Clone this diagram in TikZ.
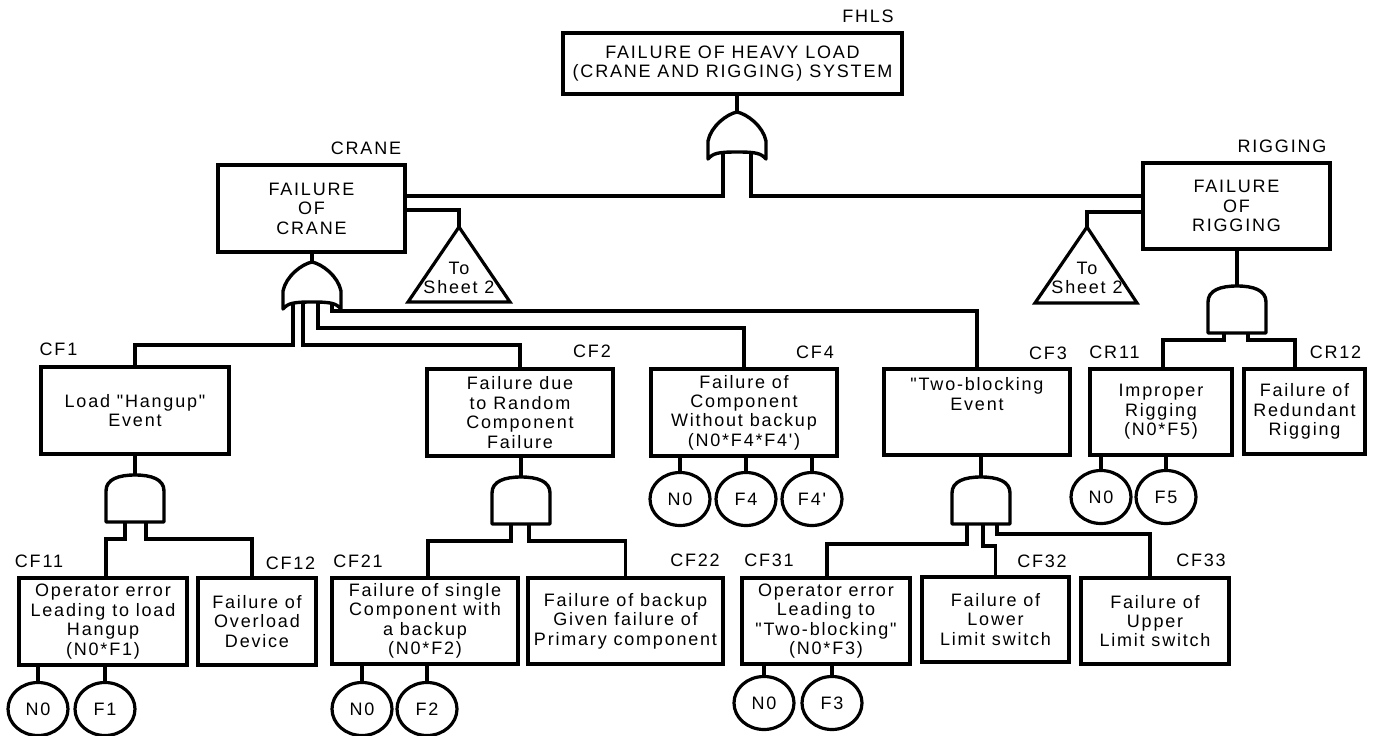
\documentclass[tikz,border=0pt]{standalone}
\usepackage{fontspec}
\setmainfont{Liberation Sans}[LetterSpace=10,Ligatures=TeXOff]
\usetikzlibrary{shapes.geometric}
\newcommand{\dtxt}{\fontsize{18}{19.4}\selectfont}
\begin{document}
\begin{tikzpicture}[x=1pt,y=-1pt,
  lw/.style={line width=3.6pt},
  box/.style={draw,lw,fill=white,align=center,inner sep=0pt,font=\dtxt},
  tag/.style={inner sep=0pt,font=\dtxt},
  ev/.style={ellipse,draw,line width=3.2pt,fill=white,minimum width=60pt,minimum height=53pt,inner sep=0pt,font=\dtxt},
  wire/.style={lw,line join=miter},
  gateline/.style={line width=3.4pt,fill=white,line join=round},
  tri/.style={line width=3.2pt,fill=white,line join=miter},
  orgate/.pic={\path[gateline,draw] (0,0) .. controls (-10,2) and (-26,14) .. (-29,29) -- (-29,47) .. controls (-24,41) and (-18,40) .. (0,40) .. controls (18,40) and (24,41) .. (29,47) -- (29,29) .. controls (26,14) and (10,2) .. (0,0) -- cycle;},
  andgate/.pic={\path[gateline,draw] (-29,47) -- (-29,16) .. controls (-29,4) and (-16,0) .. (0,0) .. controls (16,0) and (29,4) .. (29,16) -- (29,47) -- cycle;}
]
\useasboundingbox (0,0) rectangle (1374,736);

% ---- boxes ----
\node[box,minimum width=339pt,minimum height=61pt] (fhls) at (732.5,63.5) {FAILURE OF HEAVY LOAD\\(CRANE AND RIGGING) SYSTEM};
\node[box,minimum width=187pt,minimum height=87pt] (crane) at (311.5,208.5) {FAILURE\\OF\\CRANE};
\node[box,minimum width=187pt,minimum height=86pt] (rig) at (1236.5,206) {FAILURE\\OF\\RIGGING};
\node[box,minimum width=188pt,minimum height=87pt] (cf1) at (135,410.5) {Load "Hangup"\\Event};
\node[box,minimum width=186pt,minimum height=87pt] (cf2) at (520,412.5) {Failure due\\to Random\\Component\\Failure};
\node[box,minimum width=186pt,minimum height=87pt] (cf4) at (744,412.5) {Failure of\\Component\\Without backup\\(N0*F4*F4')};
\node[box,minimum width=186pt,minimum height=86pt,text depth=36pt] (cf3) at (977,412) {"Two-blocking\\Event};
\node[box,minimum width=142pt,minimum height=86pt] (cr11) at (1161,412) {Improper\\Rigging\\(N0*F5)};
\node[box,minimum width=121pt,minimum height=85pt] (cr12) at (1304.5,411.5) {Failure of\\Redundant\\Rigging};
\node[box,minimum width=168pt,minimum height=87pt] (cf11) at (103,621.5) {Operator error\\Leading to load\\Hangup\\(N0*F1)};
\node[box,minimum width=118pt,minimum height=87pt] (cf12) at (257,621.5) {Failure of\\Overload\\Device};
\node[box,minimum width=186pt,minimum height=86pt] (cf21) at (425,621) {Failure of single\\Component with\\a backup\\(N0*F2)};
\node[box,minimum width=195pt,minimum height=86pt] (cf22) at (625.5,621) {Failure of backup\\Given failure of\\Primary component};
\node[box,minimum width=168pt,minimum height=86pt] (cf31) at (826,621) {Operator error\\Leading to\\"Two-blocking"\\(N0*F3)};
\node[box,minimum width=147pt,minimum height=85pt] (cf32) at (995.5,619.5) {Failure of\\Lower\\Limit switch};
\node[box,minimum width=148pt,minimum height=86pt] (cf33) at (1155,621) {Failure of\\Upper\\Limit switch};

% ---- tags ----
\node[tag] (lfhls) at (868,16) {FHLS};
\node[tag] (lcrane) at (366,148) {CRANE};
\node[tag] (lrig) at (1282,146) {RIGGING};
\node[tag] (lcf1) at (58.5,349) {CF1};
\node[tag] (lcf2) at (592,351) {CF2};
\node[tag] (lcf4) at (815,352) {CF4};
\node[tag] (lcf3) at (1048,353) {CF3};
\node[tag] (lcr11) at (1114.5,352) {CR11};
\node[tag] (lcr12) at (1335.5,352) {CR12};
\node[tag] (lcf11) at (39,561) {CF11};
\node[tag] (lcf12) at (290.5,563) {CF12};
\node[tag] (lcf21) at (358,561) {CF21};
\node[tag] (lcf22) at (695,560) {CF22};
\node[tag] (lcf31) at (769,560) {CF31};
\node[tag] (lcf32) at (1042,561) {CF32};
\node[tag] (lcf33) at (1201,560) {CF33};

% ---- basic events ----
\node[ev] (e11) at (38,709) {N0};
\node[ev] (e12) at (105,709) {F1};
\node[ev] (e21) at (362,709) {N0};
\node[ev] (e22) at (427,709) {F2};
\node[ev] (e41) at (680,499) {N0};
\node[ev] (e42) at (746,499) {F4};
\node[ev] (e43) at (812,499) {F4'};
\node[ev] (e31) at (764,703) {N0};
\node[ev] (e32) at (832,703) {F3};
\node[ev] (e51) at (1101,497) {N0};
\node[ev] (e52) at (1166,497) {F5};

% ---- gate and transfer coordinates ----
\coordinate (g0) at (737,112);
\coordinate (g0a) at (723,150); \coordinate (g0b) at (751,150);
\coordinate (g1) at (312,262);
\coordinate (g1a) at (293,300); \coordinate (g1b) at (303,300);
\coordinate (g1c) at (318,300); \coordinate (g1d) at (332,300);
\coordinate (g2) at (135,475);
\coordinate (g2a) at (125,515); \coordinate (g2b) at (146,515);
\coordinate (g3) at (521,477);
\coordinate (g3a) at (511,517); \coordinate (g3b) at (529,517);
\coordinate (g4) at (981,477);
\coordinate (g4a) at (967,517); \coordinate (g4b) at (983,517); \coordinate (g4c) at (997,517);
\coordinate (g5) at (1237,286);
\coordinate (g5a) at (1224,326); \coordinate (g5b) at (1248,326);
\coordinate (t1) at (459,227); \coordinate (t1l) at (408,302); \coordinate (t1r) at (510,302);
\coordinate (t2) at (1087,227); \coordinate (t2l) at (1035,303); \coordinate (t2r) at (1137,303);

% ---- connectors ----
\draw[wire] (fhls.south -| g0) -- (g0);
\draw[wire] (g0a) |- ([yshift=12.5pt]crane.east);
\draw[wire] (g0b) |- ([yshift=10pt]rig.west);
\draw[wire] ([yshift=-1.5pt]crane.east) -| (t1);
\draw[wire] ([yshift=-6pt]rig.west) -| (t2);

\draw[wire] (crane.south -| g1) -- (g1);
\draw[wire] (g1a) |- ([yshift=20pt]cf1.north) -- (cf1.north);
\draw[wire] (g1b) |- ([yshift=22pt]cf2.north) -- (cf2.north);
\draw[wire] (g1c) |- ([yshift=39pt]cf4.north) -- (cf4.north);
\draw[wire] (g1d) |- ([yshift=56pt]cf3.north) -- (cf3.north);

\draw[wire] (cf1.south -| g2) -- (g2);
\draw[wire] (g2a) |- ([xshift=3pt,yshift=37pt]cf11.north) -- ([xshift=3pt]cf11.north);
\draw[wire] (g2b) |- ([xshift=-5pt,yshift=37pt]cf12.north) -- ([xshift=-5pt]cf12.north);

\draw[wire] (cf2.south -| g3) -- (g3);
\draw[wire] (g3a) |- ([xshift=3pt,yshift=35pt]cf21.north) -- ([xshift=3pt]cf21.north);
\draw[wire] (g3b) |- ([yshift=35pt]cf22.north) -- (cf22.north);

\draw[wire] (cf3.south -| g4) -- (g4);
\draw[wire] (g4a) |- ([xshift=1pt,yshift=32pt]cf31.north) -- ([xshift=1pt]cf31.north);
\draw[wire] (g4b) |- ([yshift=29pt]cf32.north) -- (cf32.north);
\draw[wire] (g4c) |- ([xshift=-5pt,yshift=42pt]cf33.north) -- ([xshift=-5pt]cf33.north);

\draw[wire] (rig.south -| g5) -- (g5);
\draw[wire] (g5a) |- ([xshift=2pt,yshift=27pt]cr11.north) -- ([xshift=2pt]cr11.north);
\draw[wire] (g5b) |- ([xshift=-9.5pt,yshift=27pt]cr12.north) -- ([xshift=-9.5pt]cr12.north);

\foreach \e/\b in {e11/cf11,e12/cf11,e21/cf21,e22/cf21,e41/cf4,e42/cf4,e43/cf4,e31/cf31,e32/cf31,e51/cr11,e52/cr11}
  \draw[wire] (\e.north) -- (\e.north |- \b.south);

% ---- gates ----
\pic at (g0) {orgate};
\pic at (g1) {orgate};
\pic at (g2) {andgate};
\pic at (g3) {andgate};
\pic at (g4) {andgate};
\pic at (g5) {andgate};

% ---- transfer triangles ----
\draw[tri] (t1) -- (t1l) -- (t1r) -- cycle;
\node[tag,align=center] (s1) at (459,278) {To\\Sheet 2};
\draw[tri] (t2) -- (t2l) -- (t2r) -- cycle;
\node[tag,align=center] (s2) at (1087,278) {To\\Sheet 2};
\end{tikzpicture}
\end{document}
